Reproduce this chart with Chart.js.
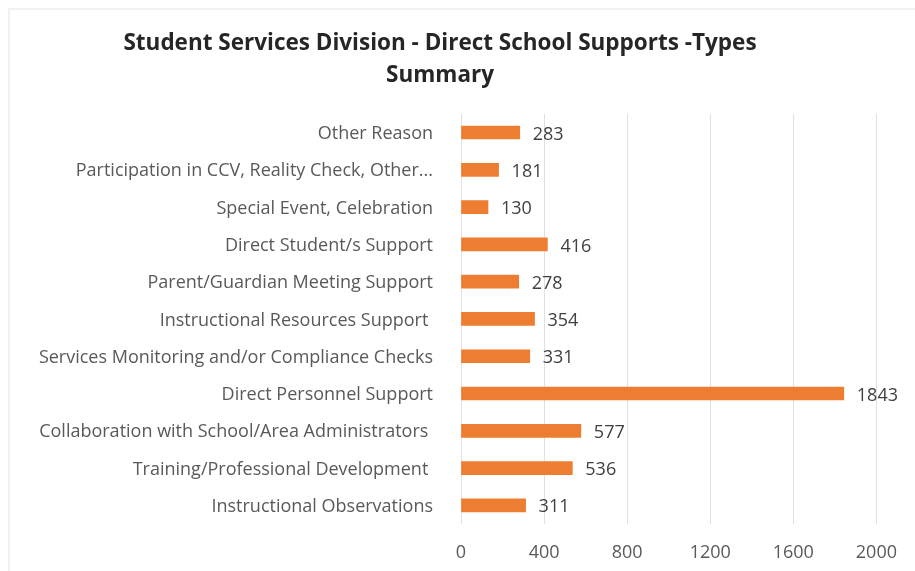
<!DOCTYPE html>
<html>
<head>
<meta charset="utf-8">
<script src="https://cdn.jsdelivr.net/npm/chart.js@4"></script>
<style>
  html, body { margin: 0; padding: 0; background: #fff; }
  #wrap { position: relative; width: 915px; height: 571px; }
  #frame { position: absolute; left: 8px; top: 8px; right: 0; bottom: 0;
           border-left: 2px solid #f1f1f1; border-top: 2px solid #f1f1f1; }
  #grafico { position: absolute; left: 0; top: 0; }
</style>
</head>
<body>
<div id="wrap">
  <div id="frame"></div>
  <canvas id="grafico" width="915" height="571"></canvas>
</div>
<script>
var tipos = [
    "Other Reason",
    "Participation in CCV, Reality Check, Other...",
    "Special Event, Celebration",
    "Direct Student/s Support",
    "Parent/Guardian Meeting Support",
    "Instructional Resources Support ",
    "Services Monitoring and/or Compliance Checks",
    "Direct Personnel Support",
    "Collaboration with School/Area Administrators ",
    "Training/Professional Development ",
    "Instructional Observations"
];
var totais = [283, 181, 130, 416, 278, 354, 331, 1843, 577, 536, 311];
var marcasX = [0, 400, 800, 1200, 1600, 2000];
var titulo = ["Student Services Division - Direct School Supports -Types", "Summary"];

var fonte = "'Open Sans', Lato, sans-serif";

// escreve o valor ao lado de cada barra
var rotulosValor = {
    id: 'rotulosValor',
    afterDatasetsDraw: function (chart) {
        var ctx = chart.ctx;
        var meta = chart.getDatasetMeta(0);
        ctx.save();
        ctx.font = "18px " + fonte;
        ctx.fillStyle = "#404040";
        ctx.textAlign = "left";
        ctx.textBaseline = "middle";
        meta.data.forEach(function (barra, i) {
            ctx.fillText(String(totais[i]), barra.x + 13, barra.y + 2);
        });
        ctx.restore();
    }
};

var ctx = document.getElementById('grafico').getContext('2d');

var grafico = new Chart(ctx, {
    type: 'bar',
    data: {
        labels: tipos,
        datasets: [{
            label: "Total",
            data: totais,
            backgroundColor: "#ED7D31",
            barThickness: 13
        }]
    },
    options: {
        indexAxis: 'y',
        responsive: false,
        animation: false,
        layout: { padding: { left: 0, right: 35, top: 0, bottom: 0 } },
        plugins: {
            legend: { display: false },
            tooltip: { enabled: false },
            title: {
                display: true,
                text: titulo,
                color: "#262626",
                font: { family: fonte, size: 22.5, weight: 'bold', lineHeight: 1.42 },
                padding: { top: 28, bottom: 22 }
            }
        },
        scales: {
            x: {
                min: 0,
                max: 2000,
                afterBuildTicks: function (scale) {
                    scale.ticks = marcasX.map(function (v) { return { value: v }; });
                },
                afterFit: function (scale) { scale.height = 47; },
                grid: { color: "#e0e0e0", lineWidth: 1, drawTicks: false },
                border: { display: false },
                ticks: {
                    color: "#595959",
                    padding: 18,
                    font: { family: fonte, size: 18 },
                    callback: function (v) { return String(v); }
                }
            },
            y: {
                afterFit: function (scale) { scale.width = 461; },
                grid: { display: false, drawTicks: false },
                border: { display: false },
                ticks: {
                    color: "#595959",
                    padding: 28,
                    labelOffset: 1.5,
                    autoSkip: false,
                    font: { family: fonte, size: 18 }
                }
            }
        }
    },
    plugins: [rotulosValor]
});
</script>
</body>
</html>
